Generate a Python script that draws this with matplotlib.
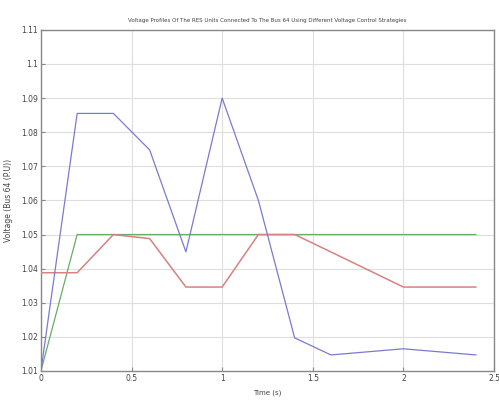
import numpy as np
import matplotlib
matplotlib.use('Agg')
import matplotlib.pyplot as plt

plt.rcParams['font.family'] = ['Liberation Sans Narrow', 'DejaVu Sans']

# time points (s)
t = [0, 0.2, 0.4, 0.6, 0.8, 1.0, 1.2, 1.4, 1.6, 2.0, 2.4]

# bus 64 voltage (p.u.) for each strategy
v_blue = [1.010, 1.0855, 1.0855, 1.0748, 1.0449, 1.090, 1.060, 1.0197, 1.0147, 1.0165, 1.0147]
v_red = [1.0388, 1.0388, 1.050, 1.0488, 1.0346, 1.0346, 1.050, 1.050, 1.0449, 1.0346, 1.0346]
v_green = [1.010, 1.050, 1.050, 1.050, 1.050, 1.050, 1.050, 1.050, 1.050, 1.050, 1.050]

xticks = [0, 0.5, 1, 1.5, 2, 2.5]
xticklabels = ['0', '0.5', '1', '1.5', '2', '2.5']
yticks = [1.01, 1.02, 1.03, 1.04, 1.05, 1.06, 1.07, 1.08, 1.09, 1.1, 1.11]
yticklabels = ['1.01', '1.02', '1.03', '1.04', '1.05', '1.06', '1.07', '1.08', '1.09', '1.1', '1.11']

fig = plt.figure(figsize=(4.99, 4.09), dpi=100)
ax = fig.add_axes([0.082, 0.093, 0.908, 0.834])

ax.plot(t, v_green, color='#6aaa6a', lw=0.9, zorder=2)
ax.plot(t, v_red, color='#d98080', lw=1.1, zorder=3)
ax.plot(t, v_blue, color='#7a7ad0', lw=0.9, zorder=4)

ax.set_xlim(0, 2.5)
ax.set_ylim(1.01, 1.11)
ax.set_xticks(xticks)
ax.set_xticklabels(xticklabels)
ax.set_yticks(yticks)
ax.set_yticklabels(yticklabels)

ax.grid(True, color='#dedede', linestyle='-', lw=0.8)
ax.tick_params(direction='in', length=3, color='#888888', labelsize=5.5, labelcolor='#444444', pad=2)
for s in ax.spines.values():
    s.set_color('#888888')
    s.set_linewidth(1.0)

ax.set_title('Voltage Profiles Of The RES Units Connected To The Bus 64 Using Different Voltage Control Strategies',
             fontsize=4, color='#444444', pad=6)
ax.set_xlabel('Time (s)', fontsize=5, color='#444444', labelpad=5)
ax.set_ylabel('Voltage (Bus 64 (P.U))', fontsize=5.5, color='#444444', labelpad=6)

fig.savefig('out.png', dpi=100)
